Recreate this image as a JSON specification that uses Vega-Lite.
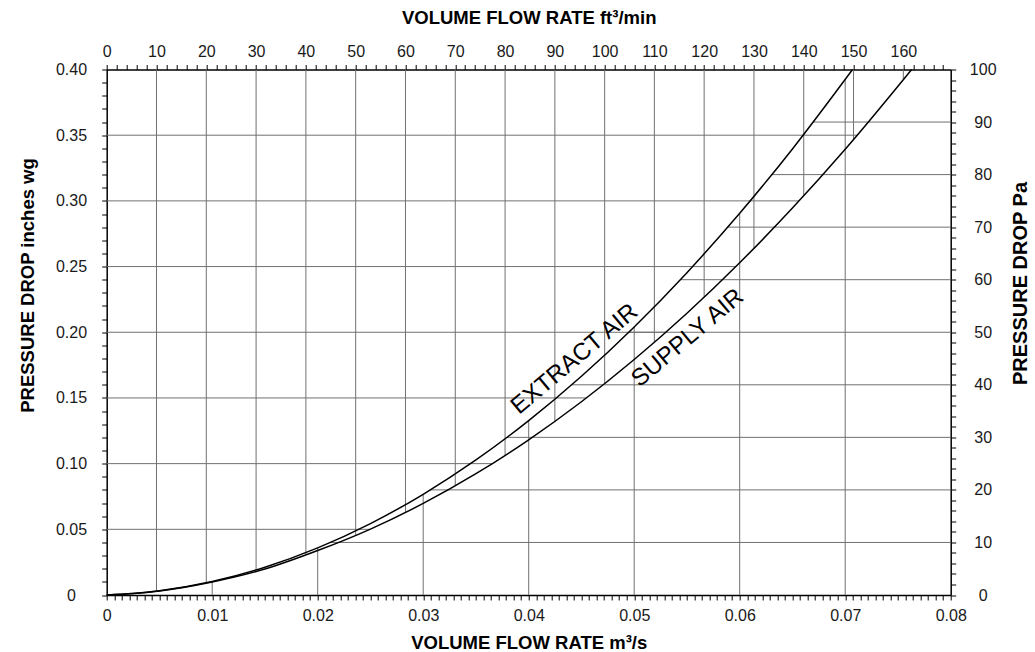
{
  "$schema": "https://vega.github.io/schema/vega-lite/v6.json",
  "width": 844,
  "height": 525.5,
  "autosize": {"type": "none"},
  "padding": {"left": 106.7, "top": 69.5, "right": 84.3, "bottom": 57},
  "background": "white",
  "config": {
    "view": {"stroke": null},
    "font": "Liberation Sans",
    "axis": {
      "grid": false,
      "domainColor": "#000",
      "domainWidth": 1.5,
      "tickColor": "#000",
      "tickWidth": 1,
      "tickSize": 5,
      "labelFont": "Liberation Sans",
      "labelFontSize": 16,
      "labelColor": "#1a1a1a",
      "labelOverlap": false,
      "labelFlush": false,
      "titleFont": "Liberation Sans",
      "titleFontSize": 18.5,
      "titleFontWeight": "bold",
      "titleColor": "#000"
    }
  },
  "layer": [
    {
      "encoding": {
        "x": {
          "field": "x",
          "type": "quantitative",
          "scale": {"domain": [0, 0.08], "nice": false, "zero": false},
          "axis": {
            "orient": "bottom",
            "title": "VOLUME FLOW RATE m³/s",
            "titleY": 53,
            "titleBaseline": "alphabetic",
            "labelPadding": 7,
            "labelExpr": "abs(datum.value*100 - round(datum.value*100)) < 0.01 ? format(round(datum.value*100)/100, '~g') : ''",
            "values": [0,0.000714,0.001429,0.002143,0.002857,0.003571,0.004286,0.005,0.005714,0.006429,0.007143,0.007857,0.008571,0.009286,
              0.01,0.010714,0.011429,0.012143,0.012857,0.013571,0.014286,0.015,0.015714,0.016429,0.017143,0.017857,0.018571,0.019286,
              0.02,0.020714,0.021429,0.022143,0.022857,0.023571,0.024286,0.025,0.025714,0.026429,0.027143,0.027857,0.028571,0.029286,
              0.03,0.030714,0.031429,0.032143,0.032857,0.033571,0.034286,0.035,0.035714,0.036429,0.037143,0.037857,0.038571,0.039286,
              0.04,0.040714,0.041429,0.042143,0.042857,0.043571,0.044286,0.045,0.045714,0.046429,0.047143,0.047857,0.048571,0.049286,
              0.05,0.050714,0.051429,0.052143,0.052857,0.053571,0.054286,0.055,0.055714,0.056429,0.057143,0.057857,0.058571,0.059286,
              0.06,0.060714,0.061429,0.062143,0.062857,0.063571,0.064286,0.065,0.065714,0.066429,0.067143,0.067857,0.068571,0.069286,
              0.07,0.070714,0.071429,0.072143,0.072857,0.073571,0.074286,0.075,0.075714,0.076429,0.077143,0.077857,0.078571,0.079286,
              0.08]
          }
        },
        "y": {
          "field": "y",
          "type": "quantitative",
          "scale": {"domain": [0, 0.4], "nice": false},
          "axis": {
            "orient": "left",
            "title": "PRESSURE DROP inches wg",
            "titleAngle": -90,
            "titleX": -73.7,
            "titleY": 215.5,
            "titleBaseline": "alphabetic",
            "titleAlign": "center",
            "labelAlign": "center",
            "labelPadding": 30.7,
            "labelExpr": "abs(datum.value*20 - round(datum.value*20)) < 0.01 ? (datum.value < 0.001 ? '0' : format(datum.value, '.2f')) : ''",
            "values": [0,0.01,0.02,0.03,0.04,0.05,0.06,0.07,0.08,0.09,0.1,0.11,0.12,0.13,0.14,0.15,0.16,0.17,0.18,0.19,0.2,0.21,0.22,0.23,0.24,0.25,0.26,0.27,0.28,0.29,0.3,0.31,0.32,0.33,0.34,0.35,0.36,0.37,0.38,0.39,0.4]
          }
        }
      },
      "layer": [
        {
          "data": {"values": [
            {"set": "cfm", "x": 0.00472, "y": 0.4, "x2": 0.00472, "y2": 0.00344},
            {"set": "cfm", "x": 0.00944, "y": 0.4, "x2": 0.00944, "y2": 0.00968},
            {"set": "cfm", "x": 0.01416, "y": 0.4, "x2": 0.01416, "y2": 0.01874},
            {"set": "cfm", "x": 0.01888, "y": 0.4, "x2": 0.01888, "y2": 0.0306},
            {"set": "cfm", "x": 0.0236, "y": 0.4, "x2": 0.0236, "y2": 0.04528},
            {"set": "cfm", "x": 0.02832, "y": 0.4, "x2": 0.02832, "y2": 0.06277},
            {"set": "cfm", "x": 0.03304, "y": 0.4, "x2": 0.03304, "y2": 0.08306},
            {"set": "cfm", "x": 0.03776, "y": 0.4, "x2": 0.03776, "y2": 0.10618},
            {"set": "cfm", "x": 0.04248, "y": 0.4, "x2": 0.04248, "y2": 0.13209},
            {"set": "cfm", "x": 0.0472, "y": 0.4, "x2": 0.0472, "y2": 0.16082},
            {"set": "cfm", "x": 0.05191, "y": 0.4, "x2": 0.05191, "y2": 0.19236},
            {"set": "cfm", "x": 0.05663, "y": 0.4, "x2": 0.05663, "y2": 0.22672},
            {"set": "cfm", "x": 0.06135, "y": 0.4, "x2": 0.06135, "y2": 0.26387},
            {"set": "cfm", "x": 0.06607, "y": 0.4, "x2": 0.06607, "y2": 0.30385},
            {"set": "cfm", "x": 0.07079, "y": 0.4, "x2": 0.07079, "y2": 0.34663},
            {"set": "cfm", "x": 0.07551, "y": 0.4, "x2": 0.07551, "y2": 0.39222},
            {"set": "inwg", "x": 0, "y": 0.05, "x2": 0.02495, "y2": 0.05},
            {"set": "inwg", "x": 0, "y": 0.1, "x2": 0.03655, "y2": 0.1},
            {"set": "inwg", "x": 0, "y": 0.15, "x2": 0.04547, "y2": 0.15},
            {"set": "inwg", "x": 0, "y": 0.2, "x2": 0.053, "y2": 0.2},
            {"set": "inwg", "x": 0, "y": 0.25, "x2": 0.05963, "y2": 0.25},
            {"set": "inwg", "x": 0, "y": 0.3, "x2": 0.06563, "y2": 0.3},
            {"set": "inwg", "x": 0, "y": 0.35, "x2": 0.07115, "y2": 0.35},
            {"set": "m3s", "x": 0.01, "y": 0, "x2": 0.01, "y2": 0.01031},
            {"set": "m3s", "x": 0.02, "y": 0, "x2": 0.02, "y2": 0.03587},
            {"set": "m3s", "x": 0.03, "y": 0, "x2": 0.03, "y2": 0.07667},
            {"set": "m3s", "x": 0.04, "y": 0, "x2": 0.04, "y2": 0.13272},
            {"set": "m3s", "x": 0.05, "y": 0, "x2": 0.05, "y2": 0.20401},
            {"set": "m3s", "x": 0.06, "y": 0, "x2": 0.06, "y2": 0.29055},
            {"set": "m3s", "x": 0.07, "y": 0, "x2": 0.07, "y2": 0.39234},
            {"set": "pa", "x": 0.02121, "y": 0.04, "x2": 0.08, "y2": 0.04},
            {"set": "pa", "x": 0.03068, "y": 0.08, "x2": 0.08, "y2": 0.08},
            {"set": "pa", "x": 0.03795, "y": 0.12, "x2": 0.08, "y2": 0.12},
            {"set": "pa", "x": 0.04409, "y": 0.16, "x2": 0.08, "y2": 0.16},
            {"set": "pa", "x": 0.04949, "y": 0.2, "x2": 0.08, "y2": 0.2},
            {"set": "pa", "x": 0.05438, "y": 0.24, "x2": 0.08, "y2": 0.24},
            {"set": "pa", "x": 0.05887, "y": 0.28, "x2": 0.08, "y2": 0.28},
            {"set": "pa", "x": 0.06305, "y": 0.32, "x2": 0.08, "y2": 0.32},
            {"set": "pa", "x": 0.06698, "y": 0.36, "x2": 0.08, "y2": 0.36}
          ]},
          "mark": {"type": "rule", "color": "#707070", "strokeWidth": 1},
          "encoding": {
            "x2": {"field": "x2"},
            "y2": {"field": "y2"}
          }
        },
        {
          "data": {"values": [
            {"air": "Extract air", "x": 0, "y": 0},
            {"air": "Extract air", "x": 0.0025, "y": 0.00115},
            {"air": "Extract air", "x": 0.005, "y": 0.00325},
            {"air": "Extract air", "x": 0.01, "y": 0.01031},
            {"air": "Extract air", "x": 0.015, "y": 0.02118},
            {"air": "Extract air", "x": 0.02, "y": 0.03587},
            {"air": "Extract air", "x": 0.025, "y": 0.05436},
            {"air": "Extract air", "x": 0.03, "y": 0.07667},
            {"air": "Extract air", "x": 0.035, "y": 0.10279},
            {"air": "Extract air", "x": 0.04, "y": 0.13272},
            {"air": "Extract air", "x": 0.045, "y": 0.16646},
            {"air": "Extract air", "x": 0.05, "y": 0.20401},
            {"air": "Extract air", "x": 0.055, "y": 0.24537},
            {"air": "Extract air", "x": 0.06, "y": 0.29055},
            {"air": "Extract air", "x": 0.065, "y": 0.33954},
            {"air": "Extract air", "x": 0.0707, "y": 0.4},
            {"air": "Supply air", "x": 0, "y": 0},
            {"air": "Supply air", "x": 0.0025, "y": 0.0011},
            {"air": "Supply air", "x": 0.005, "y": 0.0031},
            {"air": "Supply air", "x": 0.01, "y": 0.0099},
            {"air": "Supply air", "x": 0.015, "y": 0.0198},
            {"air": "Supply air", "x": 0.02, "y": 0.03384},
            {"air": "Supply air", "x": 0.025, "y": 0.05018},
            {"air": "Supply air", "x": 0.03, "y": 0.06968},
            {"air": "Supply air", "x": 0.035, "y": 0.09234},
            {"air": "Supply air", "x": 0.04, "y": 0.11815},
            {"air": "Supply air", "x": 0.045, "y": 0.14711},
            {"air": "Supply air", "x": 0.05, "y": 0.17923},
            {"air": "Supply air", "x": 0.055, "y": 0.2145},
            {"air": "Supply air", "x": 0.06, "y": 0.25293},
            {"air": "Supply air", "x": 0.065, "y": 0.29451},
            {"air": "Supply air", "x": 0.07, "y": 0.33925},
            {"air": "Supply air", "x": 0.0763, "y": 0.4}
          ]},
          "mark": {"type": "line", "color": "#000", "strokeWidth": 1.5, "interpolate": "monotone"},
          "encoding": {"detail": {"field": "air"}}
        },
        {
          "data": {"values": [
            {"label": "EXTRACT AIR", "x": 0.04435, "y": 0.1795},
            {"label": "SUPPLY AIR", "x": 0.05507, "y": 0.1956}
          ]},
          "mark": {"type": "text", "angle": -40, "fontSize": 24, "font": "Liberation Sans", "color": "#000", "align": "center", "baseline": "middle"},
          "encoding": {"text": {"field": "label"}}
        }
      ]
    },
    {
      "data": {"values": [{"cfm": 0, "pa": 0}]},
      "mark": {"type": "point", "opacity": 0},
      "encoding": {
        "x": {
          "field": "cfm",
          "type": "quantitative",
          "scale": {"domain": [0, 169.51], "nice": false, "zero": false},
          "axis": {
            "orient": "top",
            "title": "VOLUME FLOW RATE ft³/min",
            "titleY": -46.5,
            "titleBaseline": "alphabetic",
            "labelPadding": 5,
            "labelExpr": "datum.value % 10 == 0 ? datum.label : ''",
            "values": [0,2,4,6,8,10,12,14,16,18,20,22,24,26,28,30,32,34,36,38,40,42,44,46,48,50,52,54,56,58,60,62,64,66,68,70,72,74,76,78,80,82,84,86,88,90,92,94,96,98,100,102,104,106,108,110,112,114,116,118,120,122,124,126,128,130,132,134,136,138,140,142,144,146,148,150,152,154,156,158,160,162,164,166,168]
          }
        },
        "y": {
          "field": "pa",
          "type": "quantitative",
          "scale": {"domain": [0, 100], "nice": false},
          "axis": {
            "orient": "right",
            "title": "PRESSURE DROP Pa",
            "titleFontSize": 20,
            "titleAngle": -90,
            "titleX": 76,
            "titleY": 213.5,
            "titleBaseline": "alphabetic",
            "titleAlign": "center",
            "labelAlign": "center",
            "labelPadding": 27,
            "labelExpr": "datum.value % 10 == 0 ? datum.label : ''",
            "values": [0,2,4,6,8,10,12,14,16,18,20,22,24,26,28,30,32,34,36,38,40,42,44,46,48,50,52,54,56,58,60,62,64,66,68,70,72,74,76,78,80,82,84,86,88,90,92,94,96,98,100]
          }
        }
      }
    }
  ],
  "resolve": {"scale": {"x": "independent", "y": "independent"}}
}
